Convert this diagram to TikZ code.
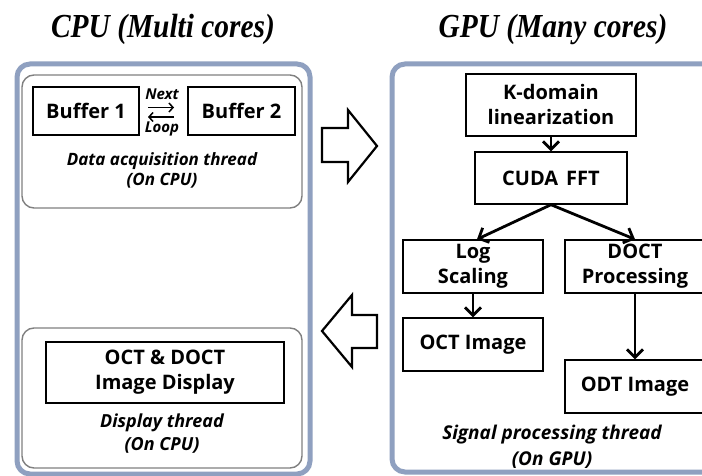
\documentclass[tikz,border=0pt]{standalone}
\usepackage{fontspec}
\setmainfont{Liberation Serif}
\setsansfont{Open Sans}
\usetikzlibrary{arrows.meta}
\definecolor{frameblue}{RGB}{143,160,192}
\definecolor{innergray}{RGB}{128,128,128}
\tikzset{
  outerbox/.style={draw=frameblue, line width=5pt, rounded corners=13pt},
  innerbox/.style={draw=innergray, line width=1.4pt, rounded corners=12pt, minimum width=280pt},
  procbox/.style={draw=black, line width=1.4pt, font=\sffamily\bfseries\fontsize{20}{25}\selectfont, align=center, inner sep=0pt},
  threadlabel/.style={align=center},
  titletext/.style={font=\rmfamily\bfseries\itshape\fontsize{30}{34}\selectfont},
  flow/.style={line width=2.8pt, arrows={-Straight Barb[length=8pt,width=16pt,line width=2.8pt,sharp]}},
  swap/.style={line width=1.5pt, arrows={-Straight Barb[length=4pt,width=9pt,line width=1.5pt]}},
  smalllabel/.style={font=\sffamily\bfseries\itshape\fontsize{15}{17}\selectfont},
  blockarrow/.style={draw=black, line width=2.2pt, fill=white, line join=miter}
}
\begin{document}
\begin{tikzpicture}[x=1pt,y=-1pt]
\useasboundingbox (0,0) rectangle (702,476);
\clip (0,0) rectangle (702,476);
\fill[white] (0,0) rectangle (702,476);

% titles
\node[titletext] (cputitle) at (163,29) {\scalebox{0.98}[1.12]{CPU (Multi cores)}};
\node[titletext] (gputitle) at (553,29) {\scalebox{0.98}[1.12]{GPU (Many cores)}};

% outer containers
\draw[outerbox] (17,64) rectangle (310,474);
\draw[outerbox] (392,64) rectangle (730,472);

% CPU: data acquisition thread
\node[innerbox, minimum height=133pt] (acq) at (162,141.5) {};
\node[procbox, minimum width=106pt, minimum height=48pt] (buf1) at (86,111) {Buffer 1};
\node[procbox, minimum width=107pt, minimum height=48pt] (buf2) at (241.5,111) {Buffer 2};
\node[smalllabel] (next) at (162,94) {Next};
\node[smalllabel] (loop) at (162,129) {Loop};
\coordinate (na) at (148,107.5);
\coordinate (nb) at (174,107.5);
\coordinate (la) at (174,117);
\coordinate (lb) at (148,117);
\draw[swap] (na) -- (nb);
\draw[swap] (la) -- (lb);
\node[threadlabel, font=\sffamily\bfseries\itshape\fontsize{17}{20}\selectfont] (acqlabel) at (162,170) {Data acquisition thread\\(On CPU)};

% CPU: display thread
\node[innerbox, minimum height=140pt] (disp) at (162,398) {};
\node[procbox, minimum width=238pt, minimum height=61pt] (octd) at (165,372.5) {OCT \& DOCT\\Image Display};
\node[threadlabel, font=\sffamily\bfseries\itshape\fontsize{18}{23}\selectfont] (displabel) at (162,433.5) {Display thread\\(On CPU)};

% block arrows
\draw[blockarrow] (322,128) -- (348,128) -- (348,110) -- (377,146) -- (348,182) -- (348,162) -- (322,162) -- cycle;
\draw[blockarrow] (377,315) -- (352,315) -- (352,295) -- (322,331) -- (352,367) -- (352,348) -- (377,348) -- cycle;

% GPU: signal processing thread
\node[procbox, minimum width=170pt, minimum height=62pt] (kdom) at (551,105) {K-domain\\linearization};
\node[procbox, minimum width=152pt, minimum height=52pt] (cuda) at (551,178) {CUDA\hspace{0.4em}FFT};
\node[procbox, minimum width=140pt, minimum height=53pt] (logs) at (473,266.5) {Log\\Scaling};
\node[procbox, minimum width=140pt, minimum height=53pt] (doct) at (635,266.5) {DOCT\\Processing};
\node[procbox, minimum width=140pt, minimum height=53pt] (octimg) at (473,344.5) {OCT Image};
\node[procbox, minimum width=140pt, minimum height=53pt] (odtimg) at (635,386.5) {ODT Image};
\node[threadlabel, font=\sffamily\bfseries\itshape\fontsize{19}{26}\selectfont] (siglabel) at (552,447) {Signal processing thread\\(On GPU)};

\draw[flow] (kdom.south) -- (cuda.north);
\draw[flow] (cuda.south) -- ([xshift=4pt]logs.north);
\draw[flow] (cuda.south) -- (doct.north);
\draw[flow] (logs.south) -- (octimg.north);
\draw[flow] (doct.south) -- (odtimg.north);
\end{tikzpicture}
\end{document}
